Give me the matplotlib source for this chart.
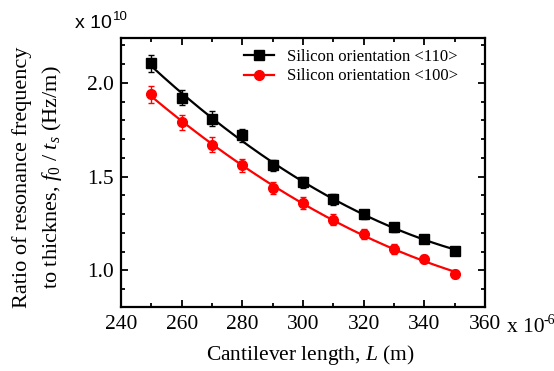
import numpy as np
import matplotlib.pyplot as plt
from matplotlib.ticker import MultipleLocator, FormatStrFormatter

plt.rcParams['font.family'] = 'Liberation Serif'
plt.rcParams['mathtext.fontset'] = 'custom'
plt.rcParams['mathtext.rm'] = 'Liberation Serif'
plt.rcParams['mathtext.it'] = 'Liberation Serif:italic'

# cantilever length (x 1e-6 m)
length = [250, 260, 270, 280, 290, 300, 310, 320, 330, 340, 350]
# f0/ts (x 1e10 Hz/m)
si110 = [2.105, 1.92, 1.81, 1.72, 1.56, 1.47, 1.38, 1.30, 1.23, 1.17, 1.105]
si100 = [1.94, 1.79, 1.67, 1.56, 1.44, 1.36, 1.27, 1.195, 1.115, 1.06, 0.98]
err110 = [0.045, 0.04, 0.04, 0.035, 0.03, 0.03, 0.03, 0.025, 0.025, 0.02, 0.02]
err100 = [0.045, 0.04, 0.04, 0.035, 0.03, 0.03, 0.03, 0.025, 0.025, 0.02, 0.02]

W, H = 554, 371
fig = plt.figure(figsize=(W/100, H/100), dpi=100)
ax = fig.add_axes([121/W, 1-307/H, 364/W, 269/H])

x = np.array(length)
xs = np.linspace(250, 350, 200)
for vals, errs, col, mk, lab in [(si110, err110, 'black', 's', 'Silicon orientation <110>'),
                                  (si100, err100, 'red', 'o', 'Silicon orientation <100>')]:
    fit = np.polyfit(x, vals, 2)
    ax.plot(xs, np.polyval(fit, xs), color=col, lw=1.6)
    ax.errorbar(x, vals, yerr=errs, fmt=mk, color=col, ms=7, capsize=2.5, elinewidth=1, capthick=1)
    ax.plot([], [], color=col, marker=mk, ms=7, lw=1.6, label=lab)

ax.set_xlim(240, 360)
ax.set_ylim(0.805, 2.24)
ax.xaxis.set_major_locator(MultipleLocator(20))
ax.xaxis.set_minor_locator(MultipleLocator(10))
ax.yaxis.set_major_locator(MultipleLocator(0.5))
ax.yaxis.set_minor_locator(MultipleLocator(0.1))
ax.yaxis.set_major_formatter(FormatStrFormatter('%.1f'))
ax.tick_params(which='both', direction='in', top=True, right=True, width=1.3, labelsize=15.5)
ax.tick_params(which='major', length=5)
ax.tick_params(which='minor', length=3)
ax.tick_params(axis='x', pad=6)
ax.tick_params(axis='y', pad=5)
for s in ax.spines.values():
    s.set_linewidth(1.6)

fig.text(310/W, 1-355/H, 'Cantilever length, $L$ (m)', fontsize=15.5, ha='center', va='center')
fig.text(38/W, 1-177/H, 'Ratio of resonance frequency\nto thicknes, $f_0$ / $t_s$ (Hz/m)',
         fontsize=16, rotation=90, ha='center', va='center', linespacing=1.5)

# axis multipliers
fig.text(75/W, 1-28/H, 'x 10', fontsize=14, ha='left', va='baseline', family='Liberation Sans')
fig.text(113/W, 1-20/H, '10', fontsize=9.5, ha='left', va='baseline', family='Liberation Sans')
fig.text(507/W, 1-332/H, 'x 10', fontsize=15.5, ha='left', va='baseline')
fig.text(543/W, 1-324/H, '-6', fontsize=10, ha='left', va='baseline')

ax.legend(loc='upper right', frameon=False, fontsize=12, handlelength=1.8,
          borderaxespad=0.3, labelspacing=0.2, bbox_to_anchor=(0.958, 1.002))

fig.savefig('out.png', dpi=100)
